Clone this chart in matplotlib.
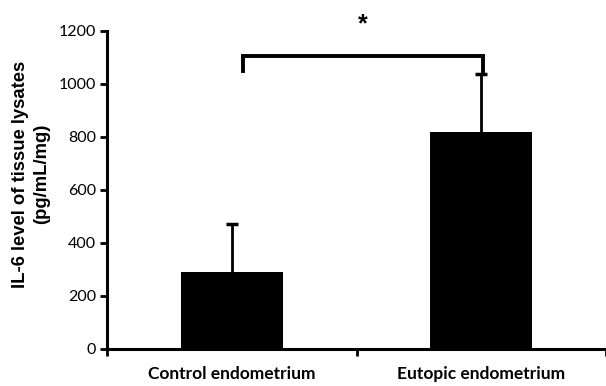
import matplotlib
matplotlib.use("Agg")
from matplotlib import pyplot as plt

groups = ["Control endometrium", "Eutopic endometrium"]
means = [292, 819]
errors = [180, 219]
y_ticks = [0, 200, 400, 600, 800, 1000, 1200]

fig = plt.figure(figsize=(6.06, 3.86), dpi=100)
ax = fig.add_axes([0.1766, 0.0959, 0.8234, 0.8238])

pos = [0.5, 1.5]
tops = [m + e for m, e in zip(means, errors)]
ax.bar(pos, means, width=0.41, color="black", zorder=2)
ax.errorbar(pos, means, yerr=[[0, 0], errors], fmt="none", ecolor="black",
            elinewidth=2, capsize=0, zorder=3)
ax.plot(pos, tops, ls="none", marker="_", ms=8, mew=2.5, color="black", zorder=3)

# significance bracket
bx = [0.545, 0.545, 1.507, 1.507]
by = [1050, 1105, 1105, 1050]
ax.plot(bx, by, color="black", lw=2.8, clip_on=False, solid_joinstyle="miter")
ax.text(1.026, 1225, "*", ha="center", va="center", fontsize=18,
        fontweight="bold", family="Liberation Sans")

ax.set_xlim(0, 2)
ax.set_ylim(0, 1200)
ax.set_yticks(y_ticks)
ax.set_yticklabels([str(v) for v in y_ticks], family="Lato", fontsize=11.5)
ax.set_xticks([0, 1, 2])
ax.set_xticklabels([])
ax.set_xticks(pos, minor=True)
ax.set_xticklabels(groups, minor=True, family="Lato", fontweight="bold",
                   fontsize=12.5)
ax.tick_params(axis="x", which="minor", length=0, pad=12)
ax.tick_params(axis="both", which="major", direction="out", length=5, width=2)
ax.tick_params(axis="y", pad=3)

for s in ["top", "right"]:
    ax.spines[s].set_visible(False)
for s in ["left", "bottom"]:
    ax.spines[s].set_linewidth(2.2)

ax.set_ylabel("IL-6 level of tissue lysates\n(pg/mL/mg)", family="Liberation Sans",
              fontweight="bold", fontsize=13.3, linespacing=1.3)
ax.yaxis.set_label_coords(-0.114, 0.55)

fig.savefig("out.png", dpi=100)
